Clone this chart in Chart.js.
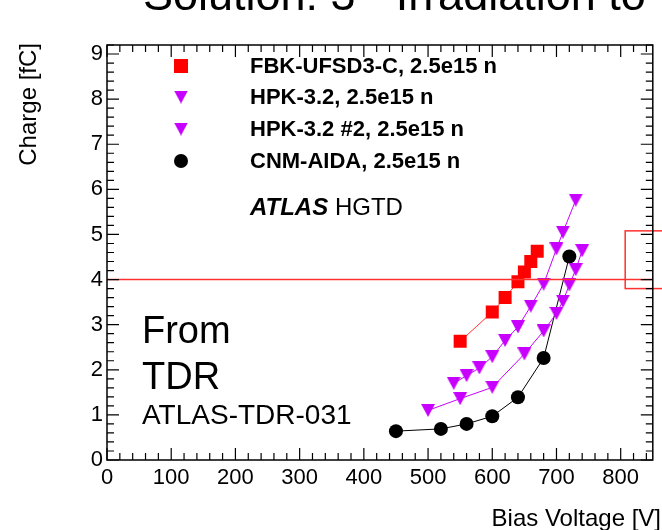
<!DOCTYPE html>
<html>
<head>
<meta charset="utf-8">
<script src="https://cdn.jsdelivr.net/npm/chart.js@4/dist/chart.umd.min.js"></script>
<style>
  html, body { margin: 0; padding: 0; background: #fff; }
  #wrap { width: 662px; height: 530px; }
</style>
</head>
<body>
<div id="wrap"><canvas id="chargeChart" width="662" height="530"></canvas></div>
<script>
// Collected charge [fC] vs bias voltage [V], 2.5e15 neq/cm2
const fbkVoltage = [550, 600, 620, 640, 650, 660, 670];
const fbkCharge = [2.63, 3.28, 3.60, 3.95, 4.17, 4.40, 4.63];
const hpkVoltage = [540, 560, 580, 600, 620, 640, 660, 680, 700, 710, 730];
const hpkCharge = [1.70, 1.87, 2.04, 2.29, 2.65, 2.95, 3.41, 3.90, 4.68, 5.05, 5.76];
const hpk2Voltage = [500, 550, 600, 650, 680, 700, 710, 720, 730, 740];
const hpk2Charge = [1.10, 1.36, 1.61, 2.35, 2.86, 3.25, 3.52, 3.88, 4.22, 4.64];
const cnmVoltage = [450, 520, 560, 600, 640, 680, 720];
const cnmCharge = [0.64, 0.69, 0.80, 0.97, 1.39, 2.26, 4.51];

const seriesLabels = ['FBK-UFSD3-C, 2.5e15 n', 'HPK-3.2, 2.5e15 n', 'HPK-3.2 #2, 2.5e15 n', 'CNM-AIDA, 2.5e15 n'];

const xTicks = [0, 100, 200, 300, 400, 500, 600, 700, 800];
const yTicks = [0, 1, 2, 3, 4, 5, 6, 7, 8, 9];

// 4 fC requirement and the highlighted box on the right
const chargeLimit = 4;
const boxVoltage = [807, 900];
const boxCharge = [3.80, 5.08];

const FONT = "'Liberation Sans', Arial, sans-serif";
const RED = '#ff0000';
const VIOLET = '#c800ff';

// ROOT-like "triangle down" marker
function makeTriangle(color, w, h) {
  const c = document.createElement('canvas');
  c.width = w; c.height = h;
  const g = c.getContext('2d');
  g.fillStyle = color;
  g.beginPath();
  g.moveTo(0, 0);
  g.lineTo(w, 0);
  g.lineTo(w / 2, h);
  g.closePath();
  g.fill();
  return c;
}
const triangle = makeTriangle(VIOLET, 14, 13);

function points(xs, ys) {
  return xs.map((v, i) => ({ x: v, y: ys[i] }));
}

// frame, inner ticks, legend and labels
const rootStyle = {
  id: 'rootStyle',
  afterDatasetsDraw(chart) {
    const { ctx, chartArea: a, scales: { x, y } } = chart;
    ctx.save();

    // requirement line
    const yl = y.getPixelForValue(chargeLimit);
    ctx.strokeStyle = '#ff3030';
    ctx.lineWidth = 1.5;
    ctx.beginPath();
    ctx.moveTo(a.left, yl);
    ctx.lineTo(a.right, yl);
    ctx.stroke();

    // box
    const bx0 = x.getPixelForValue(boxVoltage[0]);
    const bx1 = x.getPixelForValue(boxVoltage[1]);
    const by0 = y.getPixelForValue(boxCharge[1]);
    const by1 = y.getPixelForValue(boxCharge[0]);
    ctx.strokeRect(bx0, by0, bx1 - bx0, by1 - by0);

    // frame
    ctx.strokeStyle = '#000';
    ctx.lineWidth = 1.5;
    ctx.strokeRect(a.left, a.top, a.right - a.left, a.bottom - a.top);

    // ticks on all four sides
    ctx.lineWidth = 1.2;
    ctx.beginPath();
    for (let i = 0; i * 20 <= x.max; i++) {
      const px = x.getPixelForValue(i * 20);
      const len = i % 5 === 0 ? 12 : 7;
      ctx.moveTo(px, a.bottom); ctx.lineTo(px, a.bottom - len);
      ctx.moveTo(px, a.top); ctx.lineTo(px, a.top + len);
    }
    for (let i = 0; i * 0.2 <= y.max + 1e-9; i++) {
      const py = y.getPixelForValue(i * 0.2);
      const len = i % 5 === 0 ? 12 : 7;
      ctx.moveTo(a.left, py); ctx.lineTo(a.left + len, py);
      ctx.moveTo(a.right, py); ctx.lineTo(a.right - len, py);
    }
    ctx.stroke();

    // legend
    const lx = 181, tx = 250;
    const rows = [66, 97, 129, 161];
    ctx.fillStyle = '#000';
    ctx.textBaseline = 'middle';
    ctx.textAlign = 'left';
    ctx.font = 'bold 22px ' + FONT;
    seriesLabels.forEach((t, i) => {
      const ry = rows[i];
      if (i === 0) {
        ctx.fillStyle = RED;
        ctx.fillRect(lx - 7, ry - 7, 14, 14);
      } else if (i === 3) {
        ctx.fillStyle = '#000';
        ctx.beginPath();
        ctx.arc(lx, ry, 7, 0, Math.PI * 2);
        ctx.fill();
      } else {
        ctx.drawImage(triangle, lx - 7, ry - 6.5);
      }
      ctx.fillStyle = '#000';
      ctx.fillText(t, tx, ry + 1);
    });

    // experiment tag
    ctx.font = 'italic bold 24px ' + FONT;
    ctx.fillText('ATLAS', tx, 208);
    const w = ctx.measureText('ATLAS ').width;
    ctx.font = '24px ' + FONT;
    ctx.fillText('HGTD', tx + w, 208);

    // source note
    ctx.textBaseline = 'alphabetic';
    ctx.font = '38px ' + FONT;
    ctx.fillText('From', 142, 343);
    ctx.fillText('TDR', 142, 389);
    ctx.font = '28px ' + FONT;
    ctx.fillText('ATLAS-TDR-031', 142, 424);

    // axis titles
    ctx.font = '24px ' + FONT;
    ctx.textAlign = 'right';
    ctx.fillText('Bias Voltage [V]', 661, 526);
    ctx.save();
    ctx.translate(36, 43);
    ctx.rotate(-Math.PI / 2);
    ctx.fillText('Charge [fC]', 0, 0);
    ctx.restore();

    // slide heading, partly off the top
    ctx.textAlign = 'left';
    ctx.font = '45px ' + FONT;
    ctx.fillText('Solution: 3 - Irradiation to', 143, 10);

    ctx.restore();
  }
};

new Chart(document.getElementById('chargeChart'), {
  type: 'scatter',
  data: {
    datasets: [
      {
        label: seriesLabels[0],
        data: points(fbkVoltage, fbkCharge),
        showLine: true,
        borderColor: '#ff3030',
        borderWidth: 1,
        pointStyle: 'rect',
        pointRadius: 9.2,
        pointBackgroundColor: RED,
        pointBorderWidth: 0
      },
      {
        label: seriesLabels[1],
        data: points(hpkVoltage, hpkCharge),
        showLine: true,
        borderColor: VIOLET,
        borderWidth: 1,
        pointStyle: triangle
      },
      {
        label: seriesLabels[2],
        data: points(hpk2Voltage, hpk2Charge),
        showLine: true,
        borderColor: VIOLET,
        borderWidth: 1,
        pointStyle: triangle
      },
      {
        label: seriesLabels[3],
        data: points(cnmVoltage, cnmCharge),
        showLine: true,
        borderColor: '#000',
        borderWidth: 1,
        pointStyle: 'circle',
        pointRadius: 7,
        pointBackgroundColor: '#000',
        pointBorderWidth: 0
      }
    ]
  },
  options: {
    responsive: false,
    animation: false,
    layout: { padding: { top: 45, right: 1, left: 0, bottom: 0 } },
    plugins: {
      legend: { display: false },
      tooltip: { enabled: false }
    },
    scales: {
      x: {
        type: 'linear',
        min: 0,
        max: 850,
        grid: { display: false, drawTicks: false },
        border: { display: false },
        afterBuildTicks: s => { s.ticks = xTicks.map(v => ({ value: v })); },
        afterFit: s => { s.height = 70; },
        ticks: { font: { family: FONT, size: 22 }, color: '#000', padding: 5, maxRotation: 0, autoSkip: false }
      },
      y: {
        type: 'linear',
        min: 0,
        max: 9.2,
        grid: { display: false, drawTicks: false },
        border: { display: false },
        afterBuildTicks: s => { s.ticks = yTicks.map(v => ({ value: v })); },
        afterFit: s => { s.width = 107; },
        ticks: { font: { family: FONT, size: 22 }, color: '#000', padding: 4, autoSkip: false }
      }
    }
  },
  plugins: [rootStyle]
});
</script>
</body>
</html>
